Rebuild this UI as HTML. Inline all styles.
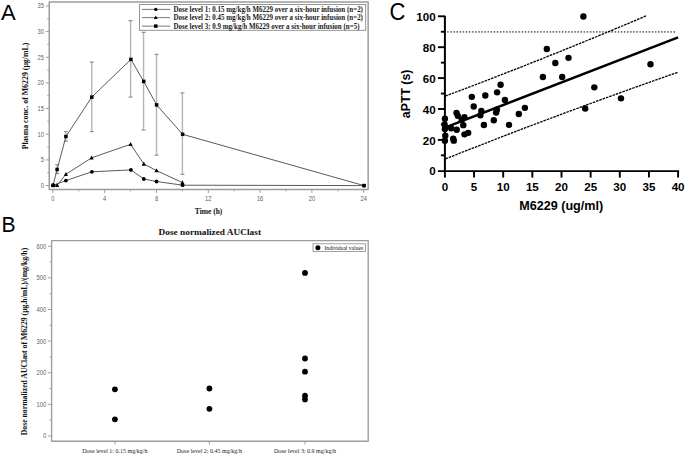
<!DOCTYPE html>
<html><head><meta charset="utf-8"><style>
html,body{margin:0;padding:0;background:#fff;width:685px;height:455px;overflow:hidden}
svg{display:block}
.tk{font-family:"Liberation Sans",sans-serif;font-size:6.8px;fill:#606060}
.lg{font-family:"Liberation Serif",serif;font-weight:bold;font-size:8px;fill:#1a1a1a}
.ttl{font-family:"Liberation Serif",serif;font-weight:bold;fill:#111}
.cl{font-family:"Liberation Serif",serif;font-size:7px;fill:#222}
.lv{font-family:"Liberation Serif",serif;font-size:6.5px;fill:#111}
.ct{font-family:"Liberation Sans",sans-serif;font-weight:bold;font-size:11.6px;fill:#000}
.ctl{font-family:"Liberation Sans",sans-serif;font-weight:bold;font-size:12.3px;fill:#000}
.pl{font-family:"Liberation Sans",sans-serif;font-size:22px;fill:#000}
</style></head><body>
<svg width="685" height="455" viewBox="0 0 685 455">
<rect width="685" height="455" fill="#fff"/>
<line x1="57.17" y1="164.7" x2="57.17" y2="173.5" stroke="#b4b4b4" stroke-width="1.4"/>
<line x1="55.17" y1="164.7" x2="59.17" y2="164.7" stroke="#8a8a8a" stroke-width="1.1"/>
<line x1="55.17" y1="173.5" x2="59.17" y2="173.5" stroke="#8a8a8a" stroke-width="1.1"/>
<line x1="65.85" y1="131.6" x2="65.85" y2="141.2" stroke="#b4b4b4" stroke-width="1.4"/>
<line x1="63.85" y1="131.6" x2="67.85" y2="131.6" stroke="#8a8a8a" stroke-width="1.1"/>
<line x1="63.85" y1="141.2" x2="67.85" y2="141.2" stroke="#8a8a8a" stroke-width="1.1"/>
<line x1="91.75" y1="62" x2="91.75" y2="131.6" stroke="#b4b4b4" stroke-width="1.4"/>
<line x1="89.75" y1="62" x2="93.75" y2="62" stroke="#8a8a8a" stroke-width="1.1"/>
<line x1="89.75" y1="131.6" x2="93.75" y2="131.6" stroke="#8a8a8a" stroke-width="1.1"/>
<line x1="130.6" y1="20.6" x2="130.6" y2="97.1" stroke="#b4b4b4" stroke-width="1.4"/>
<line x1="128.6" y1="20.6" x2="132.6" y2="20.6" stroke="#8a8a8a" stroke-width="1.1"/>
<line x1="128.6" y1="97.1" x2="132.6" y2="97.1" stroke="#8a8a8a" stroke-width="1.1"/>
<line x1="143.55" y1="32.3" x2="143.55" y2="130" stroke="#b4b4b4" stroke-width="1.4"/>
<line x1="141.55" y1="32.3" x2="145.55" y2="32.3" stroke="#8a8a8a" stroke-width="1.1"/>
<line x1="141.55" y1="130" x2="145.55" y2="130" stroke="#8a8a8a" stroke-width="1.1"/>
<line x1="156.5" y1="54.3" x2="156.5" y2="155.2" stroke="#b4b4b4" stroke-width="1.4"/>
<line x1="154.5" y1="54.3" x2="158.5" y2="54.3" stroke="#8a8a8a" stroke-width="1.1"/>
<line x1="154.5" y1="155.2" x2="158.5" y2="155.2" stroke="#8a8a8a" stroke-width="1.1"/>
<line x1="182.4" y1="92.9" x2="182.4" y2="174.3" stroke="#b4b4b4" stroke-width="1.4"/>
<line x1="180.4" y1="92.9" x2="184.4" y2="92.9" stroke="#8a8a8a" stroke-width="1.1"/>
<line x1="180.4" y1="174.3" x2="184.4" y2="174.3" stroke="#8a8a8a" stroke-width="1.1"/>
<polyline points="53.1,185.4 65.9,180.6 91.9,171.8 130.9,169.9 143.8,179 156.5,181.5 182.6,185.2 364,185.6" fill="none" stroke="#5a5a5a" stroke-width="1"/>
<polyline points="53.1,185.4 57.1,185.3 65.9,174.3 91.6,157.8 130.6,144.3 143.8,164 156.5,170.6 182.4,182.6" fill="none" stroke="#5a5a5a" stroke-width="1"/>
<polyline points="53.1,185.3 57.1,169.5 65.9,136.5 91.8,97.1 130.9,59.4 143.7,81.4 156.6,104.9 182.6,134.3 364,185.6" fill="none" stroke="#5a5a5a" stroke-width="1"/>
<circle cx="53.1" cy="185.4" r="1.9" fill="#000"/>
<circle cx="65.9" cy="180.6" r="1.9" fill="#000"/>
<circle cx="91.9" cy="171.8" r="1.9" fill="#000"/>
<circle cx="130.9" cy="169.9" r="1.9" fill="#000"/>
<circle cx="143.8" cy="179" r="1.9" fill="#000"/>
<circle cx="156.5" cy="181.5" r="1.9" fill="#000"/>
<circle cx="182.6" cy="185.2" r="1.9" fill="#000"/>
<circle cx="364" cy="185.6" r="1.9" fill="#000"/>
<path d="M53.1,183 L55.2,187.1 L51,187.1 Z" fill="#000"/>
<path d="M57.1,182.9 L59.2,187 L55,187 Z" fill="#000"/>
<path d="M65.9,171.9 L68,176 L63.8,176 Z" fill="#000"/>
<path d="M91.6,155.4 L93.7,159.5 L89.5,159.5 Z" fill="#000"/>
<path d="M130.6,141.9 L132.7,146 L128.5,146 Z" fill="#000"/>
<path d="M143.8,161.6 L145.9,165.7 L141.7,165.7 Z" fill="#000"/>
<path d="M156.5,168.2 L158.6,172.3 L154.4,172.3 Z" fill="#000"/>
<path d="M182.4,180.2 L184.5,184.3 L180.3,184.3 Z" fill="#000"/>
<rect x="51.35" y="183.55" width="3.5" height="3.5" fill="#000"/>
<rect x="55.35" y="167.75" width="3.5" height="3.5" fill="#000"/>
<rect x="64.15" y="134.75" width="3.5" height="3.5" fill="#000"/>
<rect x="90.05" y="95.35" width="3.5" height="3.5" fill="#000"/>
<rect x="129.15" y="57.65" width="3.5" height="3.5" fill="#000"/>
<rect x="141.95" y="79.65" width="3.5" height="3.5" fill="#000"/>
<rect x="154.85" y="103.15" width="3.5" height="3.5" fill="#000"/>
<rect x="180.85" y="132.55" width="3.5" height="3.5" fill="#000"/>
<rect x="362.25" y="183.85" width="3.5" height="3.5" fill="#000"/>
<rect x="49.25" y="1.95" width="318.9" height="187.6" fill="none" stroke="#9c9c9c" stroke-width="1.5" stroke-linejoin="round"/>
<line x1="45.75" y1="185.5" x2="49.25" y2="185.5" stroke="#9c9c9c" stroke-width="1"/>
<text transform="translate(44,187.9) scale(0.85,1)" text-anchor="end" class="tk">0</text>
<line x1="47.25" y1="172.68" x2="49.25" y2="172.68" stroke="#9c9c9c" stroke-width="1"/>
<line x1="45.75" y1="159.86" x2="49.25" y2="159.86" stroke="#9c9c9c" stroke-width="1"/>
<text transform="translate(44,162.26) scale(0.85,1)" text-anchor="end" class="tk">5</text>
<line x1="47.25" y1="147.03" x2="49.25" y2="147.03" stroke="#9c9c9c" stroke-width="1"/>
<line x1="45.75" y1="134.21" x2="49.25" y2="134.21" stroke="#9c9c9c" stroke-width="1"/>
<text transform="translate(44,136.61) scale(0.85,1)" text-anchor="end" class="tk">10</text>
<line x1="47.25" y1="121.39" x2="49.25" y2="121.39" stroke="#9c9c9c" stroke-width="1"/>
<line x1="45.75" y1="108.57" x2="49.25" y2="108.57" stroke="#9c9c9c" stroke-width="1"/>
<text transform="translate(44,110.97) scale(0.85,1)" text-anchor="end" class="tk">15</text>
<line x1="47.25" y1="95.74" x2="49.25" y2="95.74" stroke="#9c9c9c" stroke-width="1"/>
<line x1="45.75" y1="82.92" x2="49.25" y2="82.92" stroke="#9c9c9c" stroke-width="1"/>
<text transform="translate(44,85.32) scale(0.85,1)" text-anchor="end" class="tk">20</text>
<line x1="47.25" y1="70.1" x2="49.25" y2="70.1" stroke="#9c9c9c" stroke-width="1"/>
<line x1="45.75" y1="57.28" x2="49.25" y2="57.28" stroke="#9c9c9c" stroke-width="1"/>
<text transform="translate(44,59.68) scale(0.85,1)" text-anchor="end" class="tk">25</text>
<line x1="47.25" y1="44.45" x2="49.25" y2="44.45" stroke="#9c9c9c" stroke-width="1"/>
<line x1="45.75" y1="31.63" x2="49.25" y2="31.63" stroke="#9c9c9c" stroke-width="1"/>
<text transform="translate(44,34.03) scale(0.85,1)" text-anchor="end" class="tk">30</text>
<line x1="47.25" y1="18.81" x2="49.25" y2="18.81" stroke="#9c9c9c" stroke-width="1"/>
<line x1="45.75" y1="5.99" x2="49.25" y2="5.99" stroke="#9c9c9c" stroke-width="1"/>
<text transform="translate(44,8.39) scale(0.85,1)" text-anchor="end" class="tk">35</text>
<line x1="52.9" y1="189.55" x2="52.9" y2="192.95" stroke="#9c9c9c" stroke-width="1"/>
<text transform="translate(52.9,201.1) scale(0.85,1)" text-anchor="middle" class="tk">0</text>
<line x1="78.8" y1="189.55" x2="78.8" y2="191.35" stroke="#9c9c9c" stroke-width="1"/>
<line x1="104.7" y1="189.55" x2="104.7" y2="192.95" stroke="#9c9c9c" stroke-width="1"/>
<text transform="translate(104.7,201.1) scale(0.85,1)" text-anchor="middle" class="tk">4</text>
<line x1="130.6" y1="189.55" x2="130.6" y2="191.35" stroke="#9c9c9c" stroke-width="1"/>
<line x1="156.5" y1="189.55" x2="156.5" y2="192.95" stroke="#9c9c9c" stroke-width="1"/>
<text transform="translate(156.5,201.1) scale(0.85,1)" text-anchor="middle" class="tk">8</text>
<line x1="182.4" y1="189.55" x2="182.4" y2="191.35" stroke="#9c9c9c" stroke-width="1"/>
<line x1="208.3" y1="189.55" x2="208.3" y2="192.95" stroke="#9c9c9c" stroke-width="1"/>
<text transform="translate(208.3,201.1) scale(0.85,1)" text-anchor="middle" class="tk">12</text>
<line x1="234.2" y1="189.55" x2="234.2" y2="191.35" stroke="#9c9c9c" stroke-width="1"/>
<line x1="260.1" y1="189.55" x2="260.1" y2="192.95" stroke="#9c9c9c" stroke-width="1"/>
<text transform="translate(260.1,201.1) scale(0.85,1)" text-anchor="middle" class="tk">16</text>
<line x1="286" y1="189.55" x2="286" y2="191.35" stroke="#9c9c9c" stroke-width="1"/>
<line x1="311.9" y1="189.55" x2="311.9" y2="192.95" stroke="#9c9c9c" stroke-width="1"/>
<text transform="translate(311.9,201.1) scale(0.85,1)" text-anchor="middle" class="tk">20</text>
<line x1="337.8" y1="189.55" x2="337.8" y2="191.35" stroke="#9c9c9c" stroke-width="1"/>
<line x1="363.7" y1="189.55" x2="363.7" y2="192.95" stroke="#9c9c9c" stroke-width="1"/>
<text transform="translate(363.7,201.1) scale(0.85,1)" text-anchor="middle" class="tk">24</text>
<rect x="139.5" y="4.5" width="226.2" height="25.8" fill="#fff" stroke="#8a8a8a" stroke-width="0.9"/>
<line x1="142" y1="9.4" x2="170.2" y2="9.4" stroke="#6a6a6a" stroke-width="0.9"/>
<circle cx="155.8" cy="9.4" r="1.7" fill="#000"/>
<text transform="translate(173.4,12.1) scale(0.873,1)" class="lg">Dose level 1: 0.15 mg/kg/h M6229 over a six-hour infusion (n=2)</text>
<line x1="142" y1="17.6" x2="170.2" y2="17.6" stroke="#6a6a6a" stroke-width="0.9"/>
<path d="M155.8,15.6 L157.7,18.9 L153.9,18.9 Z" fill="#000"/>
<text transform="translate(173.4,20.3) scale(0.873,1)" class="lg">Dose level 2: 0.45 mg/kg/h M6229 over a six-hour infusion (n=2)</text>
<line x1="142" y1="26.1" x2="170.2" y2="26.1" stroke="#6a6a6a" stroke-width="0.9"/>
<rect x="154.05" y="24.35" width="3.5" height="3.5" fill="#000"/>
<text transform="translate(173.4,28.8) scale(0.873,1)" class="lg">Dose level 3: 0.9 mg/kg/h M6229 over a six-hour infusion (n=5)</text>
<text x="208.6" y="214.2" text-anchor="middle" class="ttl" style="font-size:7.5px">Time (h)</text>
<text transform="translate(27.9,96) rotate(-90)" text-anchor="middle" class="ttl" style="font-size:7.85px">Plasma conc. of M6229 (&#956;g/mL)</text>
<rect x="51.6" y="240.6" width="316.6" height="200.6" fill="none" stroke="#9c9c9c" stroke-width="1.35" stroke-linejoin="round"/>
<line x1="48.1" y1="436" x2="51.6" y2="436" stroke="#9c9c9c" stroke-width="1"/>
<text transform="translate(46.1,438.4) scale(0.85,1)" text-anchor="end" class="tk">0</text>
<line x1="49.6" y1="420.19" x2="51.6" y2="420.19" stroke="#9c9c9c" stroke-width="1"/>
<line x1="48.1" y1="404.37" x2="51.6" y2="404.37" stroke="#9c9c9c" stroke-width="1"/>
<text transform="translate(46.1,406.77) scale(0.85,1)" text-anchor="end" class="tk">100</text>
<line x1="49.6" y1="388.56" x2="51.6" y2="388.56" stroke="#9c9c9c" stroke-width="1"/>
<line x1="48.1" y1="372.74" x2="51.6" y2="372.74" stroke="#9c9c9c" stroke-width="1"/>
<text transform="translate(46.1,375.14) scale(0.85,1)" text-anchor="end" class="tk">200</text>
<line x1="49.6" y1="356.93" x2="51.6" y2="356.93" stroke="#9c9c9c" stroke-width="1"/>
<line x1="48.1" y1="341.11" x2="51.6" y2="341.11" stroke="#9c9c9c" stroke-width="1"/>
<text transform="translate(46.1,343.51) scale(0.85,1)" text-anchor="end" class="tk">300</text>
<line x1="49.6" y1="325.29" x2="51.6" y2="325.29" stroke="#9c9c9c" stroke-width="1"/>
<line x1="48.1" y1="309.48" x2="51.6" y2="309.48" stroke="#9c9c9c" stroke-width="1"/>
<text transform="translate(46.1,311.88) scale(0.85,1)" text-anchor="end" class="tk">400</text>
<line x1="49.6" y1="293.66" x2="51.6" y2="293.66" stroke="#9c9c9c" stroke-width="1"/>
<line x1="48.1" y1="277.85" x2="51.6" y2="277.85" stroke="#9c9c9c" stroke-width="1"/>
<text transform="translate(46.1,280.25) scale(0.85,1)" text-anchor="end" class="tk">500</text>
<line x1="49.6" y1="262.03" x2="51.6" y2="262.03" stroke="#9c9c9c" stroke-width="1"/>
<line x1="48.1" y1="246.22" x2="51.6" y2="246.22" stroke="#9c9c9c" stroke-width="1"/>
<text transform="translate(46.1,248.62) scale(0.85,1)" text-anchor="end" class="tk">600</text>
<line x1="114.9" y1="441.2" x2="114.9" y2="444.4" stroke="#9c9c9c" stroke-width="1"/>
<text transform="translate(114.9,452.5) scale(0.86,1)" text-anchor="middle" class="cl">Dose level 1: 0.15 mg/kg/h</text>
<line x1="209.4" y1="441.2" x2="209.4" y2="444.4" stroke="#9c9c9c" stroke-width="1"/>
<text transform="translate(209.4,452.5) scale(0.86,1)" text-anchor="middle" class="cl">Dose level 2: 0.45 mg/kg/h</text>
<line x1="305.0" y1="441.2" x2="305.0" y2="444.4" stroke="#9c9c9c" stroke-width="1"/>
<text transform="translate(305.0,452.5) scale(0.86,1)" text-anchor="middle" class="cl">Dose level 3: 0.9 mg/kg/h</text>
<circle cx="114.9" cy="389.3" r="2.9" fill="#000"/>
<circle cx="114.9" cy="419.3" r="2.9" fill="#000"/>
<circle cx="209.4" cy="388.5" r="2.9" fill="#000"/>
<circle cx="209.4" cy="408.8" r="2.9" fill="#000"/>
<circle cx="305" cy="272.9" r="2.9" fill="#000"/>
<circle cx="305" cy="358.5" r="2.9" fill="#000"/>
<circle cx="305" cy="371.7" r="2.9" fill="#000"/>
<circle cx="305" cy="395.7" r="2.9" fill="#000"/>
<circle cx="305" cy="399.4" r="2.9" fill="#000"/>
<rect x="313" y="243.8" width="52.6" height="7.7" fill="#fff" stroke="#8a8a8a" stroke-width="0.8"/>
<circle cx="317.9" cy="247.7" r="2.5" fill="#000"/>
<text transform="translate(324.5,249.7) scale(0.86,1)" class="lv">Individual values</text>
<text transform="translate(209.8,234.7) scale(1.06,1)" text-anchor="middle" class="ttl" style="font-size:8.8px">Dose normalized AUClast</text>
<text transform="translate(27.3,341.5) rotate(-90)" text-anchor="middle" class="ttl" style="font-size:7.73px">Dose normalized AUClast of M6229 (&#956;g.h/mL)/(mg/kg/h)</text>
<line x1="447.2" y1="31.9" x2="676" y2="31.9" stroke="#6e6e6e" stroke-width="1.6" stroke-dasharray="1.5 1.6"/>
<path d="M445.3,96.1 Q545.7,58.5 646.1,15.9" fill="none" stroke="#000" stroke-width="1.3" stroke-dasharray="2.6 0.9"/>
<path d="M445.5,158.9 Q561.7,112.7 678.1,72.2" fill="none" stroke="#000" stroke-width="1.3" stroke-dasharray="2.6 0.9"/>
<line x1="444.9" y1="127.6" x2="678.1" y2="37.4" stroke="#000" stroke-width="2.5"/>
<circle cx="444.9" cy="118.75" r="3.2" fill="#000"/>
<circle cx="444.6" cy="124.55" r="3.2" fill="#000"/>
<circle cx="444.9" cy="129.05" r="3.2" fill="#000"/>
<circle cx="445.3" cy="135.65" r="3.2" fill="#000"/>
<circle cx="444.9" cy="140.65" r="3.2" fill="#000"/>
<circle cx="451.2" cy="128.25" r="3.2" fill="#000"/>
<circle cx="456.7" cy="129.75" r="3.2" fill="#000"/>
<circle cx="453.2" cy="138.65" r="3.2" fill="#000"/>
<circle cx="453.8" cy="140.65" r="3.2" fill="#000"/>
<circle cx="456.5" cy="112.85" r="3.2" fill="#000"/>
<circle cx="457.8" cy="115.85" r="3.2" fill="#000"/>
<circle cx="461.7" cy="119.85" r="3.2" fill="#000"/>
<circle cx="464.4" cy="117.25" r="3.2" fill="#000"/>
<circle cx="463.3" cy="125.15" r="3.2" fill="#000"/>
<circle cx="464.5" cy="134.35" r="3.2" fill="#000"/>
<circle cx="468.2" cy="132.85" r="3.2" fill="#000"/>
<circle cx="471.8" cy="96.85" r="3.2" fill="#000"/>
<circle cx="473.7" cy="106.45" r="3.2" fill="#000"/>
<circle cx="485.3" cy="95.45" r="3.2" fill="#000"/>
<circle cx="481.3" cy="110.85" r="3.2" fill="#000"/>
<circle cx="480.4" cy="115.25" r="3.2" fill="#000"/>
<circle cx="483.9" cy="124.95" r="3.2" fill="#000"/>
<circle cx="493.8" cy="120.25" r="3.2" fill="#000"/>
<circle cx="496.9" cy="109.65" r="3.2" fill="#000"/>
<circle cx="496.1" cy="112.55" r="3.2" fill="#000"/>
<circle cx="497.1" cy="92.35" r="3.2" fill="#000"/>
<circle cx="500.6" cy="84.75" r="3.2" fill="#000"/>
<circle cx="504.9" cy="100.05" r="3.2" fill="#000"/>
<circle cx="509.0" cy="124.85" r="3.2" fill="#000"/>
<circle cx="518.8" cy="114.05" r="3.2" fill="#000"/>
<circle cx="524.9" cy="107.85" r="3.2" fill="#000"/>
<circle cx="542.9" cy="77.05" r="3.2" fill="#000"/>
<circle cx="546.8" cy="48.95" r="3.2" fill="#000"/>
<circle cx="555.3" cy="63.05" r="3.2" fill="#000"/>
<circle cx="562.2" cy="76.95" r="3.2" fill="#000"/>
<circle cx="568.5" cy="57.85" r="3.2" fill="#000"/>
<circle cx="583.4" cy="16.55" r="3.2" fill="#000"/>
<circle cx="585.2" cy="108.55" r="3.2" fill="#000"/>
<circle cx="594.3" cy="87.35" r="3.2" fill="#000"/>
<circle cx="621.0" cy="98.35" r="3.2" fill="#000"/>
<circle cx="650.5" cy="64.25" r="3.2" fill="#000"/>
<line x1="444.9" y1="15.8" x2="444.9" y2="171.8" stroke="#000" stroke-width="2"/>
<line x1="437.9" y1="171.2" x2="679.1" y2="171.2" stroke="#000" stroke-width="1.8"/>
<text x="435.6" y="175.4" text-anchor="end" class="ct">0</text>
<line x1="440.9" y1="155.35" x2="444.9" y2="155.35" stroke="#000" stroke-width="1.9"/>
<line x1="437.9" y1="139.9" x2="444.9" y2="139.9" stroke="#000" stroke-width="1.9"/>
<text x="435.6" y="144.5" text-anchor="end" class="ct">20</text>
<line x1="440.9" y1="124.45" x2="444.9" y2="124.45" stroke="#000" stroke-width="1.9"/>
<line x1="437.9" y1="109" x2="444.9" y2="109" stroke="#000" stroke-width="1.9"/>
<text x="435.6" y="113.6" text-anchor="end" class="ct">40</text>
<line x1="440.9" y1="93.55" x2="444.9" y2="93.55" stroke="#000" stroke-width="1.9"/>
<line x1="437.9" y1="78.1" x2="444.9" y2="78.1" stroke="#000" stroke-width="1.9"/>
<text x="435.6" y="82.7" text-anchor="end" class="ct">60</text>
<line x1="440.9" y1="62.65" x2="444.9" y2="62.65" stroke="#000" stroke-width="1.9"/>
<line x1="437.9" y1="47.2" x2="444.9" y2="47.2" stroke="#000" stroke-width="1.9"/>
<text x="435.6" y="51.8" text-anchor="end" class="ct">80</text>
<line x1="440.9" y1="31.75" x2="444.9" y2="31.75" stroke="#000" stroke-width="1.9"/>
<line x1="437.9" y1="16.3" x2="444.9" y2="16.3" stroke="#000" stroke-width="1.9"/>
<text x="435.6" y="20.9" text-anchor="end" class="ct">100</text>
<line x1="444.9" y1="171.2" x2="444.9" y2="177.6" stroke="#000" stroke-width="1.9"/>
<text x="444.9" y="191.4" text-anchor="middle" class="ct">0</text>
<line x1="474.05" y1="171.2" x2="474.05" y2="177.6" stroke="#000" stroke-width="1.9"/>
<text x="474.05" y="191.4" text-anchor="middle" class="ct">5</text>
<line x1="503.2" y1="171.2" x2="503.2" y2="177.6" stroke="#000" stroke-width="1.9"/>
<text x="503.2" y="191.4" text-anchor="middle" class="ct">10</text>
<line x1="532.35" y1="171.2" x2="532.35" y2="177.6" stroke="#000" stroke-width="1.9"/>
<text x="532.35" y="191.4" text-anchor="middle" class="ct">15</text>
<line x1="561.5" y1="171.2" x2="561.5" y2="177.6" stroke="#000" stroke-width="1.9"/>
<text x="561.5" y="191.4" text-anchor="middle" class="ct">20</text>
<line x1="590.65" y1="171.2" x2="590.65" y2="177.6" stroke="#000" stroke-width="1.9"/>
<text x="590.65" y="191.4" text-anchor="middle" class="ct">25</text>
<line x1="619.8" y1="171.2" x2="619.8" y2="177.6" stroke="#000" stroke-width="1.9"/>
<text x="619.8" y="191.4" text-anchor="middle" class="ct">30</text>
<line x1="648.95" y1="171.2" x2="648.95" y2="177.6" stroke="#000" stroke-width="1.9"/>
<text x="648.95" y="191.4" text-anchor="middle" class="ct">35</text>
<line x1="678.1" y1="171.2" x2="678.1" y2="177.6" stroke="#000" stroke-width="1.9"/>
<text x="678.1" y="191.4" text-anchor="middle" class="ct">40</text>
<text transform="translate(561.2,209.8) scale(1.025,1)" text-anchor="middle" class="ctl">M6229 (ug/ml)</text>
<text transform="translate(410.2,93.9) rotate(-90)" text-anchor="middle" class="ctl">aPTT (s)</text>
<text transform="translate(0.9,19.8) scale(1,1.045)" class="pl">A</text>
<text transform="translate(1.4,231.8) scale(0.96,1.02)" class="pl">B</text>
<text transform="translate(389.5,19.85) scale(1,1.085)" class="pl">C</text>
</svg>
</body></html>
